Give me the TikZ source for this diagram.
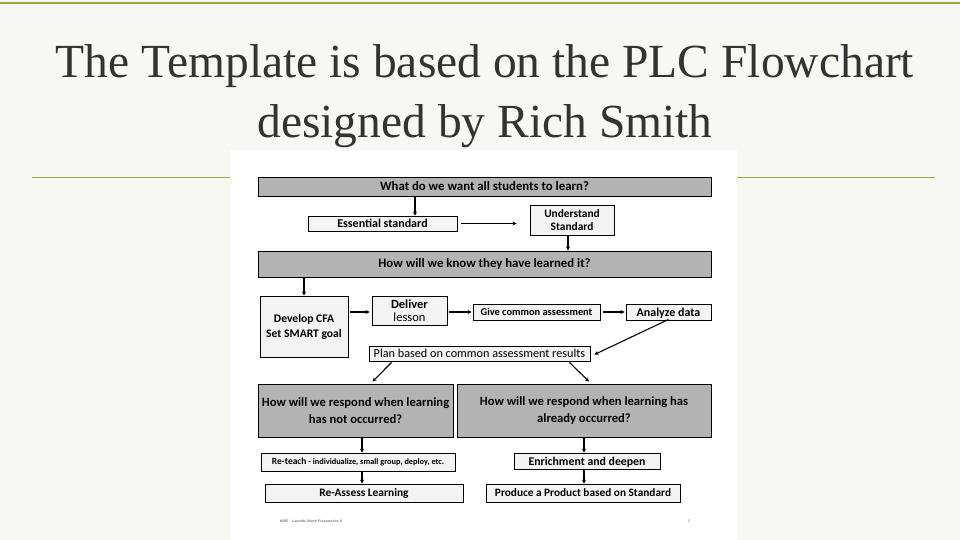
\documentclass[tikz,border=0pt]{standalone}
\usepackage{fontspec}
\setmainfont{Liberation Serif}
\newfontfamily\boxfont{Carlito}
\usepackage{tikz}
\usetikzlibrary{calc,arrows.meta}
\tikzset{>=stealth}
\definecolor{rule}{HTML}{9DA73E}
\definecolor{slide}{HTML}{F7F7F4}
\definecolor{darkbox}{HTML}{B3B3B3}
\definecolor{lightbox}{HTML}{F3F3F3}

\begin{document}
\begin{tikzpicture}[x=1pt,y=-1pt,
    box/.style={draw=black,line width=0.9pt,fill=lightbox,inner sep=0pt,align=center,font=\boxfont\bfseries\fontsize{12}{13}\selectfont},
    qbox/.style={box,fill=darkbox},
    flow/.style={->,line width=1.1pt,>={Stealth[length=4pt,width=4pt]}}]
    \useasboundingbox[fill=slide] (0,0) rectangle (960,540);
    \draw[rule,line width=1.2pt] (0,3) -- (960,3);
    \draw[rule,line width=0.9pt] (32,177) -- (935,177);
    \node[text=black!80,align=center,font=\fontsize{47.5}{60}\selectfont] (title) at (485,96)
      {The Template is based on the PLC Flowchart\\designed by Rich Smith};
    \fill[white] (230,150) rectangle (737,540);
    % top question
    \node[qbox,minimum width=453pt,minimum height=19pt,font=\boxfont\bfseries\fontsize{12.8}{14}\selectfont] (learn) at (484.5,186.5) {What do we want all students to learn?};
    \node[box,minimum width=149pt,minimum height=15pt] (ess) at (382.5,223.5) {Essential standard};
    \node[box,minimum width=84pt,minimum height=30pt,font=\boxfont\bfseries\fontsize{11.4}{12.5}\selectfont] (und) at (572,220) {Understand\\Standard};
    \node[qbox,minimum width=453pt,minimum height=26pt,font=\boxfont\bfseries\fontsize{12.8}{14}\selectfont] (know) at (484.5,264) {How will we know they have learned it?};
    % middle row
    \node[box,minimum width=88pt,minimum height=61pt,font=\boxfont\bfseries\fontsize{11.6}{15}\selectfont] (cfa) at (304,326.5) {Develop CFA\\Set SMART goal};
    \node[box,minimum width=75pt,minimum height=29pt,font=\boxfont\bfseries\fontsize{12.5}{13.5}\selectfont] (deliver) at (409.5,310.5) {Deliver\\\mdseries lesson};
    \node[box,minimum width=127pt,minimum height=16pt,font=\boxfont\bfseries\fontsize{10.4}{11}\selectfont] (give) at (536.5,312) {Give common assessment};
    \node[box,minimum width=85pt,minimum height=16pt,text depth=0pt] (analyze) at (668.5,312) {Analyze data};
    \node[box,minimum width=221pt,minimum height=15pt,font=\boxfont\fontsize{12.2}{13}\selectfont] (plan) at (479.5,353.5) {Plan based on common assessment results};
    % two responses
    \node[qbox,minimum width=195pt,minimum height=53pt,font=\boxfont\bfseries\fontsize{12.6}{17}\selectfont] (notyet) at (355.5,410.5) {How will we respond when learning\\has not occurred?};
    \node[qbox,minimum width=254pt,minimum height=53pt,font=\boxfont\bfseries\fontsize{12.6}{17}\selectfont] (already) at (584,410.5) {How will we respond when learning has\\already occurred?};
    \node[box,minimum width=194pt,minimum height=18pt,font=\boxfont\bfseries\fontsize{8.3}{10}\selectfont] (reteach) at (358,462) {{\fontsize{9.5}{10}\selectfont Re-teach} - individualize, small group, deploy, etc.};
    \node[box,minimum width=198pt,minimum height=18pt,font=\boxfont\bfseries\fontsize{11.4}{13}\selectfont] (reassess) at (364,493) {Re-Assess Learning};
    \node[box,minimum width=146pt,minimum height=16pt,text depth=0pt,font=\boxfont\bfseries\fontsize{11.8}{12}\selectfont] (enrich) at (587,461) {Enrichment and deepen};
    \node[box,minimum width=194pt,minimum height=18pt,font=\boxfont\bfseries\fontsize{11.3}{12}\selectfont] (product) at (583,493) {Produce a Product based on Standard};
    % footer
    \node[anchor=west,text=black!60,font=\sffamily\bfseries\itshape\fontsize{3.6}{4}\selectfont] (foot) at (276,521) {WRS - Lamoille North Presentation 8};
    \node[text=black!60,font=\sffamily\fontsize{4}{4}\selectfont] (page) at (689,521) {3};
    % arrows
    \draw[flow] (learn.south -| 415,0) -- (ess.north -| 415,0);
    \draw[flow,shorten <=4pt,shorten >=13pt] (ess.east) -- (ess.east -| und.west);
    \draw[flow] ([xshift=-4pt]und.south) -- ([xshift=-4pt]und.south |- know.north);
    \draw[flow] (cfa.north |- know.south) -- (cfa.north);
    \draw[flow,shorten <=2pt,shorten >=2pt] (cfa.east |- give.west) -- (deliver.west |- give.west);
    \draw[flow,shorten <=2pt,shorten >=1pt] (deliver.east |- give.west) -- (give.west);
    \draw[flow,shorten <=3pt,shorten >=1pt] (give.east) -- (analyze.west);
    \draw[flow] ([yshift=1pt]analyze.south) -- ($(plan.east)+(4,1)$);
    \draw[flow] ($(plan.south west)+(23,1)$) -- ($(notyet.north)+(17,-2)$);
    \draw[flow] ($(plan.south east)+(-21,1)$) -- ($(already.north)+(5,-2)$);
    \draw[flow] ([xshift=4pt]reteach.north |- notyet.south) -- ([xshift=4pt]reteach.north);
    \draw[flow] ([xshift=4pt]reteach.south) -- ([xshift=4pt]reteach.south |- reassess.north);
    \draw[flow] (already.south) -- (already.south |- enrich.north);
    \draw[flow] (already.south |- enrich.south) -- (already.south |- product.north);
\end{tikzpicture}
\end{document}
